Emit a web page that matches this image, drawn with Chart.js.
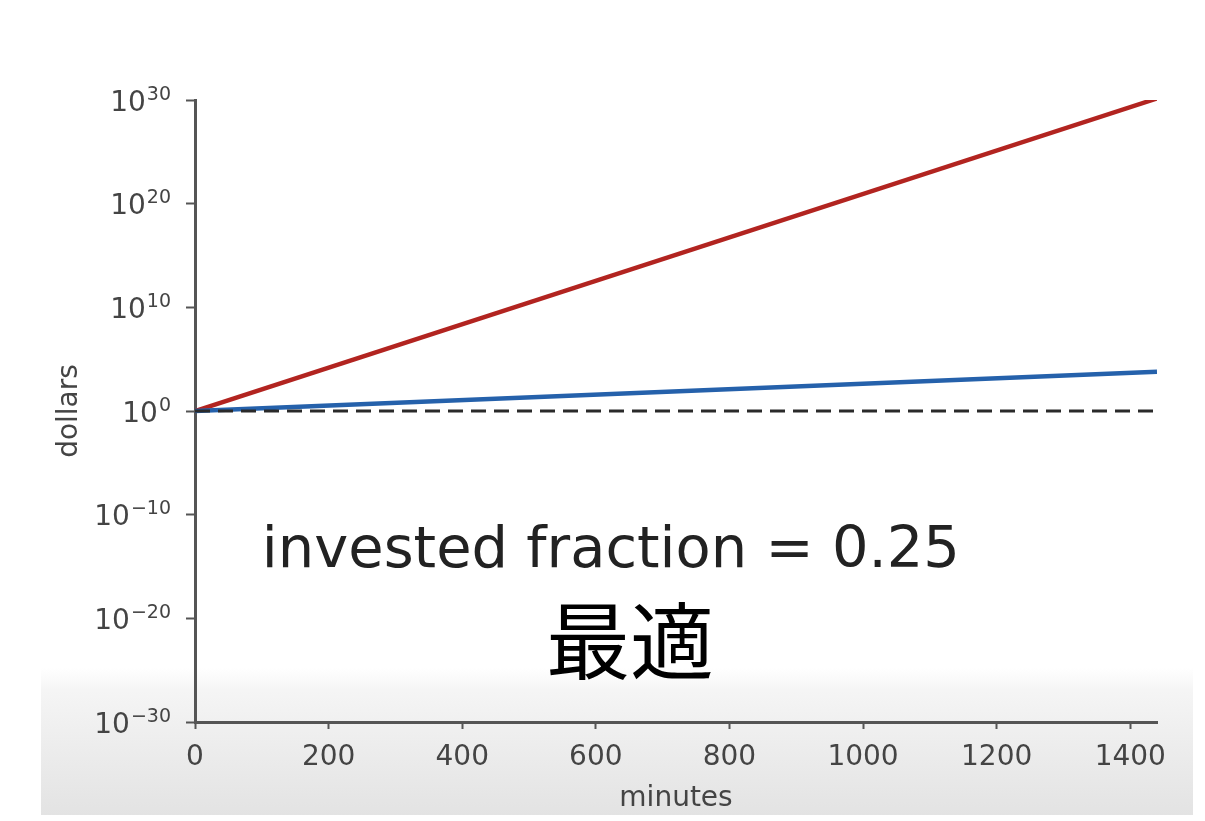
<!DOCTYPE html>
<html>
<head>
<meta charset="utf-8">
<script src="https://cdn.jsdelivr.net/npm/chart.js@4"></script>
<style>
  html, body { margin: 0; padding: 0; background: #fff; }
  body { width: 1205px; height: 821px; position: relative; overflow: hidden; }
  #panel {
    position: absolute; left: 41px; top: 0; width: 1152px; height: 815px;
    background: linear-gradient(to bottom, #ffffff 0px, #ffffff 668px, #f5f5f5 690px, #efefef 730px, #e8e8e8 780px, #e3e3e3 815px);
  }
  #wrap { position: absolute; left: 0; top: 0; width: 1205px; height: 821px; }
  #chart { filter: blur(0.5px); }
  #subtitle {
    position: absolute; left: 430px; width: 400px; top: 595px;
    text-align: center; font-family: "Noto Sans CJK JP", sans-serif;
    font-size: 84px; line-height: 1; color: #000;
  }
</style>
</head>
<body>
<div id="panel"></div>
<div id="wrap"><canvas id="chart" width="1205" height="821"></canvas></div>
<div id="subtitle">最適</div>
<script>
// time axis (minutes over one day)
const minutes = [0, 1440];
// wealth paths
const optimalWealth = [1, 1.4e30];
const cautiousWealth = [1, 6.0e3];
const baseline = [1, 1];
// axis ticks
const xTicks = [0, 200, 400, 600, 800, 1000, 1200, 1400];
const yTickExponents = [-30, -20, -10, 0, 10, 20, 30];

const annotation = { text: 'invested fraction = 0.25', x: 100, y: 1e-15 };

const FAMILY = '"DejaVu Sans", sans-serif';
const axisColor = '#555';
const labelColor = '#444';

const toPoints = (xs, ys) => xs.map((x, i) => ({ x: x, y: ys[i] }));

// power-of-ten labels on the log axis: base "10" plus a raised exponent
const powerLabels = {
  id: 'powerLabels',
  afterDraw(chart) {
    const { ctx } = chart;
    const y = chart.scales.y;
    const right = y.right - 9 - 15;
    ctx.save();
    ctx.fillStyle = labelColor;
    ctx.textAlign = 'right';
    ctx.textBaseline = 'alphabetic';
    y.ticks.forEach(t => {
      const py = y.getPixelForValue(t.value);
      const exp = Math.round(Math.log10(t.value));
      const expText = (exp < 0 ? '\u2212' : '') + String(Math.abs(exp));
      ctx.font = '19px ' + FAMILY;
      const w = ctx.measureText(expText).width;
      ctx.fillText(expText, right, py - 0.5);
      ctx.font = '28px ' + FAMILY;
      ctx.fillText('10', right - w - 1, py + 10.5);
    });
    ctx.restore();
  }
};

const textPlugin = {
  id: 'fractionText',
  afterDatasetsDraw(chart) {
    const { ctx, scales } = chart;
    ctx.save();
    ctx.font = '57.5px ' + FAMILY;
    ctx.fillStyle = '#222';
    ctx.textAlign = 'left';
    ctx.textBaseline = 'alphabetic';
    ctx.fillText(annotation.text, scales.x.getPixelForValue(annotation.x), scales.y.getPixelForValue(annotation.y));
    ctx.restore();
  }
};

new Chart(document.getElementById('chart'), {
  type: 'line',
  data: {
    datasets: [
      { data: toPoints(minutes, baseline), borderColor: '#2a2a2a', borderWidth: 3, borderDash: [15, 8], pointRadius: 0, order: 0 },
      { data: toPoints(minutes, cautiousWealth), borderColor: '#2561ab', borderWidth: 4.5, pointRadius: 0, order: 1 },
      { data: toPoints(minutes, optimalWealth), borderColor: '#b22420', borderWidth: 4.5, pointRadius: 0, order: 2 }
    ]
  },
  options: {
    responsive: false,
    animation: false,
    events: [],
    layout: { padding: { top: 100, right: 48, left: 0, bottom: 0 } },
    plugins: { legend: { display: false }, tooltip: { enabled: false } },
    scales: {
      x: {
        type: 'linear', min: 0, max: 1440,
        afterFit: s => { s.height = 99; },
        afterBuildTicks: s => { s.ticks = xTicks.map(v => ({ value: v })); },
        grid: { display: true, drawOnChartArea: false, drawTicks: true, tickLength: 7, tickWidth: 2, color: axisColor },
        border: { display: true, color: axisColor, width: 3 },
        ticks: { font: { family: FAMILY, size: 28 }, color: labelColor, padding: 12, maxRotation: 0, autoSkip: false, callback: v => String(v) },
        title: { display: true, text: 'minutes', font: { family: FAMILY, size: 28 }, color: labelColor, padding: { top: 0, bottom: 5 } }
      },
      y: {
        type: 'logarithmic', min: 1e-30, max: 1e30,
        afterFit: s => { s.width = 195; },
        afterBuildTicks: s => { s.ticks = yTickExponents.map(e => ({ value: Math.pow(10, e) })); },
        grid: { display: true, drawOnChartArea: false, drawTicks: true, tickLength: 9, tickWidth: 2, color: axisColor },
        border: { display: true, color: axisColor, width: 3 },
        ticks: { display: false, autoSkip: false },
        title: { display: true, text: 'dollars', font: { family: FAMILY, size: 28 }, color: labelColor, padding: { top: 53, bottom: 0 } }
      }
    }
  },
  plugins: [textPlugin, powerLabels]
});
</script>
</body>
</html>
